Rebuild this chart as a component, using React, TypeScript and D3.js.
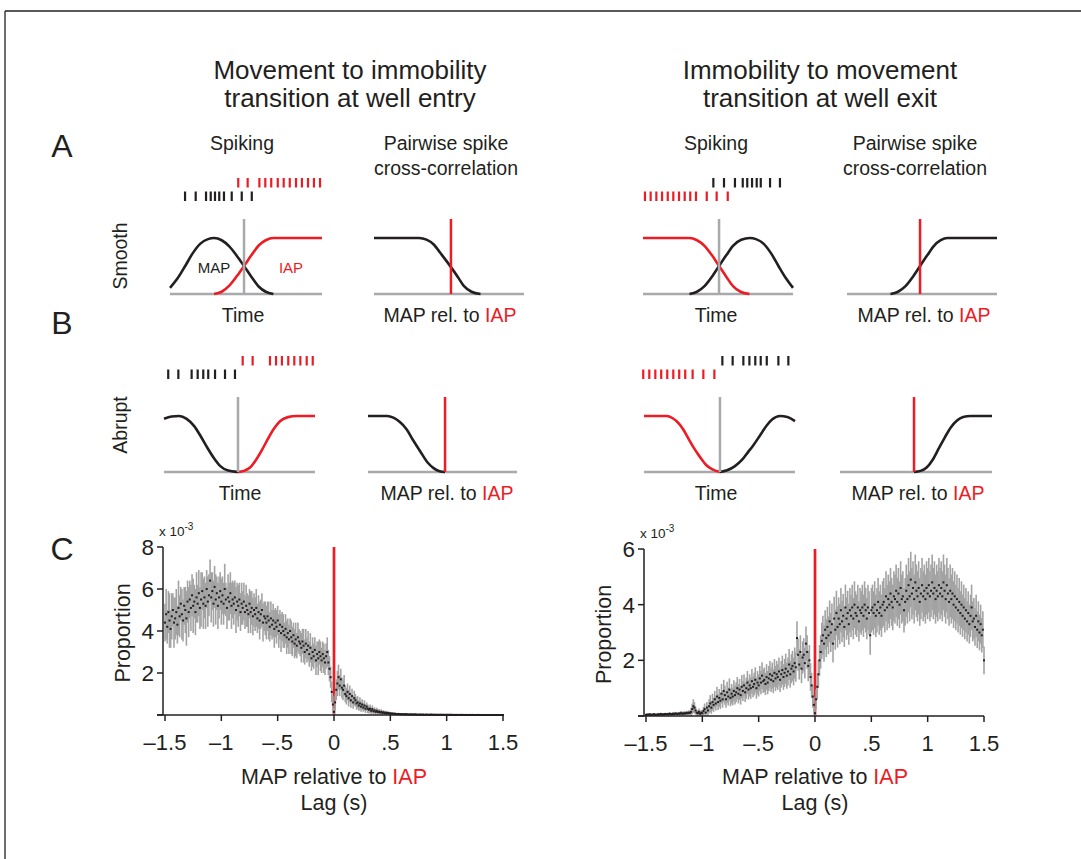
import React from 'react';
import * as d3 from 'd3';

type Knot = [number, number];

const FONT = '"Liberation Sans", Arial, Helvetica, sans-serif';
const INK = '#231f20';
const RED = '#ed1c24';
const GUIDE = '#a7a9ac';
const BAR = '#a3a3a3';

// ---------- C: cross-correlograms, one bin every 10 ms ----------
const LAGS = d3.range(-150, 151).map(i => i / 100);
const X_TICKS = [-1.5, -1, -0.5, 0, 0.5, 1, 1.5];
const X_TICK_LABELS = ['–1.5', '–1', '–.5', '0', '.5', '1', '1.5'];
const ENTRY_Y_TICKS = [0, 2, 4, 6, 8];
const EXIT_Y_TICKS = [0, 2, 4, 6];

// proportion x 10^-3, well entry (movement -> immobility)
const ENTRY_MEAN = [
  4.4, 4.8, 4.2, 4.9, 4.5, 4.1, 4.7, 5.0, 4.4, 4.6,
  4.9, 4.3, 5.1, 4.7, 5.3, 4.8, 4.5, 5.2, 5.0, 4.6,
  5.4, 4.9, 5.5, 5.1, 5.7, 5.2, 5.4, 4.9, 5.6, 5.3,
  5.8, 5.1, 5.5, 5.9, 5.3, 5.6, 5.2, 6.0, 5.4, 5.7,
  6.4, 5.6, 5.9, 5.3, 6.1, 5.5, 5.8, 5.2, 5.6, 5.9,
  5.4, 5.7, 5.3, 6.0, 5.5, 5.1, 5.6, 5.4, 5.8, 5.2,
  5.5, 5.3, 5.6, 5.0, 5.4, 5.2, 5.5, 4.9, 5.3, 5.1,
  5.4, 4.9, 5.2, 5.0, 4.8, 5.3, 4.9, 5.1, 4.7, 5.0,
  4.8, 5.1, 4.6, 4.9, 4.5, 4.8, 5.0, 4.4, 4.7, 4.6,
  4.4, 4.7, 4.5, 4.2, 4.6, 4.3, 4.5, 4.1, 4.4, 4.2,
  4.5, 4.0, 4.3, 3.9, 4.2, 4.0, 3.8, 4.1, 3.7, 3.9,
  3.6, 4.0, 3.7, 3.5, 3.8, 3.4, 3.6, 3.3, 3.7, 3.5,
  3.4, 3.2, 3.5, 3.3, 3.0, 3.4, 3.1, 3.3, 2.9, 3.2,
  2.7, 3.0, 2.8, 3.1, 2.6, 2.9, 2.7, 3.0, 2.8, 2.6,
  2.9, 2.7, 2.5, 2.8, 3.0, 2.5, 2.2, 1.8, 1.1, 0.5,
  0.15,
  0.6, 1.2, 1.5, 1.8, 1.4, 1.7, 1.3, 1.2, 1.4, 1.0,
  0.9, 1.1, 0.8, 1.0, 0.7, 0.9, 0.6, 0.8, 0.7, 0.55,
  0.6, 0.45, 0.55, 0.4, 0.5, 0.35, 0.45, 0.3, 0.4, 0.3,
  0.25, 0.3, 0.2, 0.28, 0.18, 0.22, 0.15, 0.2, 0.14, 0.16,
  0.12, 0.15, 0.1, 0.13, 0.09, 0.11, 0.08, 0.1, 0.07, 0.08,
  0.06, 0.07, 0.05, 0.06, 0.05, 0.04, 0.05, 0.04, 0.04, 0.03,
  0.04, 0.03, 0.03, 0.04, 0.03, 0.02, 0.03, 0.02, 0.03, 0.02,
  0.02, 0.03, 0.02, 0.02, 0.01, 0.02, 0.02, 0.01, 0.02, 0.01,
  0.01, 0.02, 0.01, 0.01, 0.01, 0.02, 0.01, 0.01, 0.01, 0.01,
  0.01, 0.01, 0.005, 0.01, 0.01, 0.005, 0.01, 0.005, 0.005, 0.01,
  0.005, 0.005, 0.01, 0.005, 0.005, 0.005, 0, 0.005, 0.005, 0,
  0.005, 0, 0.005, 0.005, 0, 0, 0.005, 0, 0, 0.005,
  0, 0, 0.005, 0, 0, 0, 0, 0.005, 0, 0,
  0, 0, 0, 0, 0, 0, 0, 0, 0, 0,
  0, 0, 0, 0, 0, 0, 0, 0, 0, 0,
];
const ENTRY_ERR = [
  0.9, 1.2, 0.8, 1.0, 1.3, 0.9, 1.1, 0.8, 1.2, 1.0,
  1.1, 0.9, 1.3, 1.0, 0.8, 1.2, 1.0, 0.9, 1.1, 1.3,
  1.0, 1.2, 0.9, 1.1, 1.0, 1.3, 0.8, 1.1, 1.2, 0.9,
  1.1, 1.0, 1.3, 0.9, 1.2, 1.0, 1.1, 0.9, 1.2, 1.0,
  1.0, 1.2, 0.9, 1.1, 1.0, 1.2, 0.8, 1.1, 1.0, 0.9,
  1.1, 0.9, 1.0, 1.2, 0.8, 1.0, 1.1, 0.9, 1.0, 1.1,
  0.9, 1.0, 0.8, 1.1, 0.9, 1.0, 0.8, 0.9, 1.0, 0.8,
  0.9, 0.8, 1.0, 0.8, 0.9, 0.7, 1.0, 0.8, 0.9, 0.8,
  0.8, 0.9, 0.7, 0.8, 0.9, 0.7, 0.8, 0.9, 0.7, 0.8,
  0.8, 0.7, 0.9, 0.7, 0.8, 0.7, 0.8, 0.9, 0.7, 0.8,
  0.7, 0.8, 0.7, 0.9, 0.7, 0.8, 0.6, 0.7, 0.8, 0.7,
  0.7, 0.6, 0.8, 0.7, 0.6, 0.7, 0.8, 0.6, 0.7, 0.6,
  0.6, 0.7, 0.6, 0.8, 0.6, 0.7, 0.6, 0.7, 0.6, 0.7,
  0.6, 0.7, 0.6, 0.6, 0.7, 0.6, 0.8, 0.6, 0.7, 0.6,
  0.6, 0.7, 0.6, 0.6, 0.7, 0.6, 0.6, 0.5, 0.5, 0.4,
  0.2,
  0.4, 0.5, 0.6, 0.6, 0.5, 0.5, 0.5, 0.5, 0.5, 0.4,
  0.4, 0.4, 0.4, 0.4, 0.35, 0.35, 0.3, 0.35, 0.3, 0.3,
  0.3, 0.25, 0.3, 0.25, 0.25, 0.2, 0.25, 0.2, 0.2, 0.2,
  0.18, 0.2, 0.15, 0.18, 0.14, 0.15, 0.12, 0.14, 0.12, 0.12,
  0.1, 0.12, 0.09, 0.1, 0.08, 0.09, 0.07, 0.08, 0.07, 0.07,
  0.06, 0.06, 0.05, 0.06, 0.05, 0.05, 0.05, 0.04, 0.04, 0.04,
  0.04, 0.03, 0.04, 0.03, 0.03, 0.03, 0.03, 0.02, 0.03, 0.02,
  0.02, 0.03, 0.02, 0.02, 0.02, 0.02, 0.02, 0.02, 0.02, 0.02,
  0.02, 0.02, 0.01, 0.02, 0.01, 0.02, 0.01, 0.01, 0.02, 0.01,
  0.01, 0.01, 0.01, 0.01, 0.01, 0.01, 0.01, 0.01, 0.01, 0.01,
  0.01, 0.01, 0.01, 0.01, 0.01, 0.01, 0.01, 0.01, 0.01, 0.01,
  0.01, 0.005, 0.01, 0.005, 0.005, 0.005, 0.005, 0.005, 0.005, 0.005,
  0.005, 0.005, 0.005, 0, 0.005, 0, 0.005, 0.005, 0, 0,
  0, 0, 0, 0, 0, 0, 0, 0, 0, 0,
  0, 0, 0, 0, 0, 0, 0, 0, 0, 0,
];

// proportion x 10^-3, well exit (immobility -> movement)
const EXIT_MEAN = [
  0.04, 0.05, 0.04, 0.06, 0.05, 0.04, 0.05, 0.06, 0.05, 0.04,
  0.05, 0.06, 0.05, 0.07, 0.06, 0.05, 0.06, 0.07, 0.06, 0.07,
  0.06, 0.08, 0.07, 0.06, 0.08, 0.07, 0.09, 0.08, 0.07, 0.09,
  0.08, 0.1, 0.09, 0.08, 0.1, 0.09, 0.11, 0.1, 0.12, 0.11,
  0.15, 0.25, 0.35, 0.3, 0.2, 0.12, 0.1, 0.15, 0.08, 0.12,
  0.1, 0.18, 0.25, 0.12, 0.3, 0.2, 0.35, 0.45, 0.3, 0.5,
  0.4, 0.6, 0.45, 0.7, 0.5, 0.65, 0.55, 0.8, 0.6, 0.9,
  0.75, 0.6, 0.85, 0.7, 0.95, 0.65, 0.8, 0.7, 0.9, 0.75,
  0.85, 1.0, 0.8, 0.95, 0.75, 1.05, 0.9, 1.1, 0.85, 1.0,
  1.2, 0.95, 1.1, 1.0, 1.25, 1.05, 1.15, 1.3, 1.0, 1.2,
  1.1, 1.35, 1.2, 1.45, 1.25, 1.3, 1.15, 1.4, 1.2, 1.35,
  1.5, 1.3, 1.45, 1.25, 1.55, 1.35, 1.5, 1.4, 1.6, 1.3,
  1.5, 1.65, 1.4, 1.55, 1.7, 1.45, 1.6, 1.85, 1.5, 1.7,
  1.8, 1.6, 1.9, 1.75, 2.8, 2.2, 1.85, 2.3, 1.7, 2.1,
  2.2, 1.9, 2.6, 2.3, 1.8, 2.0, 1.4, 1.1, 0.7, 0.4,
  0.1,
  0.6, 1.05, 1.5, 2.0, 2.3, 2.7, 2.9, 2.6, 3.1, 2.8,
  3.2, 2.9, 3.4, 3.0, 3.3, 2.6, 3.5, 3.1, 3.7, 3.2,
  3.5, 3.3, 3.8, 3.4, 3.6, 3.2, 3.9, 3.5, 3.7, 3.3,
  3.8, 3.6, 3.9, 3.5, 4.0, 3.7, 3.6, 3.9, 3.4, 3.8,
  3.7, 3.9, 3.6, 4.0, 3.8, 3.5, 3.9, 3.7, 2.9, 3.8,
  3.9, 3.7, 4.0, 3.6, 3.8, 4.1, 3.7, 3.9, 3.6, 4.0,
  4.1, 3.8, 4.3, 3.9, 4.2, 4.0, 4.4, 4.1, 3.9, 4.3,
  4.2, 4.5, 4.1, 4.4, 4.0, 4.6, 4.2, 4.3, 3.8, 4.1,
  4.5, 4.2, 4.7, 4.3, 4.9, 4.4, 4.6, 4.2, 4.8, 4.5,
  4.3, 4.6, 4.1, 4.4, 4.7, 4.3, 4.5, 4.2, 4.6, 4.4,
  4.7, 4.3, 4.5, 4.8, 4.4, 4.6, 4.2, 4.5, 4.3, 4.7,
  4.4, 4.6, 4.3, 4.8, 4.5, 4.2, 4.7, 4.4, 4.1, 4.5,
  4.2, 4.4, 4.0, 4.3, 3.9, 4.2, 3.8, 4.1, 3.7, 4.0,
  3.6, 3.9, 3.5, 3.8, 3.4, 3.7, 3.3, 3.6, 3.9, 3.4,
  3.5, 3.2, 3.6, 3.1, 3.4, 3.0, 3.3, 2.9, 3.1, 2.0,
];
const EXIT_ERR = [
  0.03, 0.04, 0.03, 0.05, 0.04, 0.03, 0.04, 0.05, 0.04, 0.03,
  0.04, 0.05, 0.04, 0.05, 0.05, 0.04, 0.05, 0.05, 0.04, 0.05,
  0.05, 0.06, 0.05, 0.05, 0.06, 0.05, 0.06, 0.06, 0.05, 0.06,
  0.06, 0.08, 0.07, 0.06, 0.08, 0.07, 0.08, 0.08, 0.09, 0.08,
  0.15, 0.2, 0.25, 0.2, 0.15, 0.1, 0.1, 0.12, 0.08, 0.1,
  0.1, 0.15, 0.2, 0.12, 0.2, 0.18, 0.25, 0.3, 0.22, 0.3,
  0.25, 0.3, 0.25, 0.35, 0.28, 0.32, 0.3, 0.35, 0.3, 0.4,
  0.35, 0.3, 0.38, 0.32, 0.4, 0.3, 0.35, 0.32, 0.38, 0.34,
  0.36, 0.4, 0.35, 0.38, 0.34, 0.42, 0.36, 0.4, 0.35, 0.38,
  0.42, 0.36, 0.4, 0.38, 0.44, 0.38, 0.4, 0.45, 0.38, 0.42,
  0.4, 0.45, 0.42, 0.48, 0.42, 0.44, 0.4, 0.46, 0.42, 0.45,
  0.48, 0.44, 0.47, 0.43, 0.5, 0.45, 0.48, 0.46, 0.5, 0.44,
  0.48, 0.52, 0.46, 0.5, 0.54, 0.47, 0.5, 0.56, 0.48, 0.52,
  0.54, 0.5, 0.56, 0.52, 0.6, 0.58, 0.54, 0.6, 0.52, 0.58,
  0.6, 0.55, 0.62, 0.6, 0.55, 0.55, 0.5, 0.45, 0.4, 0.3,
  0.2,
  0.35, 0.45, 0.5, 0.55, 0.6, 0.65, 0.7, 0.65, 0.7, 0.68,
  0.72, 0.68, 0.75, 0.7, 0.74, 0.68, 0.78, 0.72, 0.8, 0.74,
  0.76, 0.72, 0.8, 0.74, 0.78, 0.72, 0.82, 0.76, 0.8, 0.74,
  0.8, 0.76, 0.82, 0.74, 0.84, 0.78, 0.76, 0.82, 0.72, 0.8,
  0.78, 0.82, 0.76, 0.84, 0.8, 0.74, 0.82, 0.78, 0.7, 0.8,
  0.82, 0.78, 0.84, 0.76, 0.8, 0.86, 0.78, 0.82, 0.76, 0.84,
  0.86, 0.8, 0.9, 0.82, 0.88, 0.84, 0.92, 0.86, 0.82, 0.9,
  0.88, 0.94, 0.86, 0.92, 0.84, 0.96, 0.88, 0.9, 0.8, 0.86,
  0.94, 0.88, 0.98, 0.9, 1.0, 0.92, 0.96, 0.88, 1.0, 0.94,
  0.9, 0.96, 0.86, 0.92, 0.98, 0.9, 0.94, 0.88, 0.96, 0.92,
  0.98, 0.9, 0.94, 1.0, 0.92, 0.96, 0.88, 0.94, 0.9, 0.98,
  0.92, 0.96, 0.9, 1.0, 0.94, 0.88, 0.98, 0.92, 0.86, 0.94,
  0.88, 0.92, 0.84, 0.9, 0.82, 0.88, 0.8, 0.86, 0.78, 0.84,
  0.76, 0.82, 0.74, 0.8, 0.72, 0.78, 0.7, 0.76, 0.82, 0.72,
  0.74, 0.68, 0.76, 0.66, 0.72, 0.64, 0.7, 0.62, 0.66, 0.5,
];

// ---------- A/B: schematic curves, knots = [fraction of width, fraction of plateau] ----------
const SMOOTH_ENTRY_MAP: Knot[] = [[0, 0.11], [0.05, 0.28], [0.1, 0.5], [0.15, 0.73], [0.2, 0.9], [0.25, 0.98], [0.29, 1], [0.34, 0.96], [0.39, 0.85], [0.44, 0.68], [0.487, 0.5], [0.535, 0.31], [0.585, 0.13], [0.63, 0.04], [0.68, 0]];
const SMOOTH_ENTRY_IAP: Knot[] = [[0.29, 0], [0.34, 0.04], [0.39, 0.15], [0.44, 0.32], [0.487, 0.5], [0.535, 0.69], [0.585, 0.87], [0.63, 0.96], [0.68, 1], [1, 1]];
const SMOOTH_ENTRY_XCORR: Knot[] = [[0, 1], [0.3, 1], [0.35, 0.97], [0.4, 0.88], [0.44, 0.74], [0.48, 0.6], [0.513, 0.48], [0.56, 0.3], [0.6, 0.14], [0.65, 0.04], [0.71, 0]];
const SMOOTH_EXIT_IAP: Knot[] = [[0, 1], [0.31, 1], [0.36, 0.96], [0.41, 0.86], [0.46, 0.69], [0.507, 0.5], [0.555, 0.31], [0.6, 0.14], [0.65, 0.04], [0.71, 0]];
const SMOOTH_EXIT_MAP: Knot[] = [[0.31, 0], [0.36, 0.04], [0.41, 0.14], [0.46, 0.31], [0.507, 0.5], [0.555, 0.69], [0.6, 0.86], [0.655, 0.97], [0.713, 1], [0.753, 0.98], [0.803, 0.9], [0.853, 0.73], [0.903, 0.5], [0.953, 0.28], [1, 0.11]];
const SMOOTH_EXIT_XCORR: Knot[] = [[0.29, 0], [0.34, 0.04], [0.39, 0.14], [0.44, 0.31], [0.487, 0.5], [0.535, 0.69], [0.58, 0.86], [0.625, 0.96], [0.67, 1], [1, 1]];
const ABRUPT_ENTRY_MAP: Knot[] = [[0, 0.95], [0.05, 0.99], [0.1, 1], [0.15, 0.95], [0.2, 0.82], [0.245, 0.63], [0.29, 0.42], [0.33, 0.25], [0.375, 0.1], [0.42, 0.03], [0.49, 0]];
const ABRUPT_ENTRY_IAP: Knot[] = [[0.49, 0], [0.53, 0.02], [0.57, 0.08], [0.61, 0.22], [0.65, 0.4], [0.69, 0.6], [0.73, 0.78], [0.77, 0.91], [0.82, 0.98], [0.88, 1], [1, 1]];
const ABRUPT_ENTRY_XCORR: Knot[] = [[0, 1], [0.13, 1], [0.17, 0.97], [0.21, 0.9], [0.26, 0.76], [0.3, 0.58], [0.35, 0.37], [0.4, 0.17], [0.44, 0.07], [0.48, 0.015], [0.517, 0]];
const ABRUPT_EXIT_IAP: Knot[] = [[0, 1], [0.15, 1], [0.19, 0.96], [0.23, 0.87], [0.26, 0.76], [0.29, 0.62], [0.33, 0.43], [0.37, 0.27], [0.41, 0.13], [0.45, 0.05], [0.503, 0]];
const ABRUPT_EXIT_MAP: Knot[] = [[0.503, 0], [0.55, 0.03], [0.6, 0.1], [0.65, 0.22], [0.69, 0.36], [0.722, 0.47], [0.77, 0.66], [0.81, 0.82], [0.85, 0.94], [0.9, 1], [0.95, 0.98], [1, 0.91]];
const ABRUPT_EXIT_XCORR: Knot[] = [[0.487, 0], [0.53, 0.02], [0.57, 0.08], [0.61, 0.22], [0.65, 0.42], [0.69, 0.62], [0.73, 0.8], [0.77, 0.92], [0.81, 0.98], [0.86, 1], [1, 1]];

// spike rasters (fraction of panel width)
const SMOOTH_ENTRY_MAP_SPIKES = [0.099, 0.169, 0.237, 0.268, 0.296, 0.324, 0.355, 0.406, 0.472, 0.538];
const SMOOTH_ENTRY_IAP_SPIKES = [0.449, 0.511, 0.588, 0.627, 0.666, 0.709, 0.748, 0.788, 0.829, 0.868, 0.908, 0.947, 0.987];
const SMOOTH_EXIT_MAP_SPIKES = [0.469, 0.54, 0.613, 0.665, 0.695, 0.727, 0.758, 0.785, 0.847, 0.913];
const SMOOTH_EXIT_IAP_SPIKES = [0.013, 0.051, 0.089, 0.127, 0.165, 0.202, 0.24, 0.278, 0.315, 0.353, 0.425, 0.491, 0.565];
const ABRUPT_ENTRY_MAP_SPIKES = [0.028, 0.095, 0.183, 0.223, 0.26, 0.293, 0.338, 0.404, 0.47];
const ABRUPT_ENTRY_IAP_SPIKES = [0.521, 0.587, 0.702, 0.742, 0.781, 0.823, 0.863, 0.903, 0.945, 0.985];
const ABRUPT_EXIT_MAP_SPIKES = [0.519, 0.587, 0.658, 0.698, 0.737, 0.773, 0.813, 0.89, 0.956];
const ABRUPT_EXIT_IAP_SPIKES = [-0.005, 0.035, 0.075, 0.114, 0.154, 0.194, 0.233, 0.273, 0.322, 0.393, 0.466];

type Curve = { knots: Knot[]; color: string };
type Row = { times: number[]; color: string };

function Schematic({ x0, w, base, marker, markerColor, curves, top, bottom }: {
  x0: number; w: number; base: number; marker: number; markerColor: string;
  curves: Curve[]; top?: Row; bottom?: Row;
}) {
  const x = d3.scaleLinear().domain([0, 1]).range([x0, x0 + w]);
  const y = d3.scaleLinear().domain([0, 1]).range([base, base - 56]);
  const line = d3.line<Knot>().x(d => x(d[0])).y(d => y(d[1])).curve(d3.curveMonotoneX);
  const rows: [Row | undefined, number][] = [[top, 116], [bottom, 102.5]];
  return (
    <g>
      <line x1={x0} x2={x0 + w} y1={base} y2={base} stroke={GUIDE} strokeWidth={2.6} />
      {curves.map((c, i) => (
        <path key={i} d={line(c.knots) || ''} fill="none" stroke={c.color} strokeWidth={2.6} />
      ))}
      <line x1={x(marker)} x2={x(marker)} y1={base} y2={base - 75} stroke={markerColor} strokeWidth={2.5} />
      {rows.map(([row, off], r) => row && row.times.map((t, i) => (
        <line key={`${r}-${i}`} x1={x(t)} x2={x(t)} y1={base - off} y2={base - off + 9.5}
          stroke={row.color} strokeWidth={2.2} />
      )))}
    </g>
  );
}

function LagPanel({ left, right, top, bottom, yMax, yTicks, mean, err }: {
  left: number; right: number; top: number; bottom: number; yMax: number;
  yTicks: number[]; mean: number[]; err: number[];
}) {
  const x = d3.scaleLinear().domain([-1.5, 1.5]).range([left, right]);
  const y = d3.scaleLinear().domain([0, yMax]).range([bottom, top]);
  const ax = left - 2;
  const cx = x(0);
  return (
    <g>
      <line x1={cx} x2={cx} y1={y(yMax)} y2={y(0)} stroke={RED} strokeWidth={2.7} />
      {LAGS.map((l, i) => (
        <line key={`e${i}`} x1={x(l)} x2={x(l)} y1={y(Math.max(0, mean[i] - err[i]))} y2={y(mean[i] + err[i])}
          stroke={BAR} strokeWidth={1.6} />
      ))}
      {LAGS.map((l, i) => (
        <rect key={`m${i}`} x={x(l) - 1} y={y(mean[i]) - 1} width={2} height={2} fill={INK} />
      ))}
      {/* axes */}
      <line x1={ax} x2={ax} y1={y(yMax)} y2={y(0)} stroke={INK} strokeWidth={1.5} />
      <line x1={ax - 6} x2={x(1.5)} y1={y(0)} y2={y(0)} stroke={INK} strokeWidth={1.5} />
      {yTicks.map(t => (
        <g key={`y${t}`}>
          <line x1={ax - 6} x2={ax} y1={y(t)} y2={y(t)} stroke={INK} strokeWidth={1.5} />
          {t > 0 && (
            <text x={ax - 9} y={y(t)} dy="0.36em" textAnchor="end" fontSize={22.5} fill={INK}>{t}</text>
          )}
        </g>
      ))}
      {X_TICKS.map((t, i) => (
        <g key={`x${t}`}>
          <line x1={x(t)} x2={x(t)} y1={y(0)} y2={y(0) + 6} stroke={INK} strokeWidth={1.5} />
          <text x={x(t)} y={y(0) + 35} textAnchor="middle" fontSize={22} fill={INK}>{X_TICK_LABELS[i]}</text>
        </g>
      ))}
      <text x={ax - 4} y={y(yMax) - 11} fontSize={13.5} fill={INK}>
        x 10<tspan fontSize={10} dy={-6}>-3</tspan>
      </text>
      <text transform={`translate(${ax - 33},${(y(0) + y(yMax)) / 2 + 2}) rotate(-90)`} textAnchor="middle"
        fontSize={21.5} fill={INK}>Proportion</text>
      <text x={cx} y={784} textAnchor="middle" fontSize={21.5} fill={INK}>
        MAP relative to <tspan fill={RED}>IAP</tspan>
      </text>
      <text x={cx} y={810} textAnchor="middle" fontSize={21.5} fill={INK}>Lag (s)</text>
    </g>
  );
}

const RelLabel = ({ x, y }: { x: number; y: number }) => (
  <text x={x} y={y} textAnchor="middle" fontSize={19.5} fill={INK}>
    MAP rel. to <tspan fill={RED}>IAP</tspan>
  </text>
);

export default function App() {
  return (
    <div style={{ position: 'absolute', left: 0, top: 0 }}>
      <svg width={1081} height={859} style={{ display: 'block', background: '#fff', fontFamily: FONT }}>
        <line x1={5} x2={1081} y1={11} y2={11} stroke={INK} strokeWidth={1.3} />
        <line x1={5} x2={5} y1={11} y2={859} stroke={INK} strokeWidth={1.3} />

        {/* titles */}
        <text x={350} y={79} textAnchor="middle" fontSize={26} fill={INK}>Movement to immobility</text>
        <text x={350} y={107} textAnchor="middle" fontSize={26} fill={INK}>transition at well entry</text>
        <text x={820} y={79} textAnchor="middle" fontSize={26} fill={INK}>Immobility to movement</text>
        <text x={820} y={107} textAnchor="middle" fontSize={26} fill={INK}>transition at well exit</text>

        <text x={62} y={157} textAnchor="middle" fontSize={32} fill={INK}>A</text>
        <text x={62} y={334} textAnchor="middle" fontSize={32} fill={INK}>B</text>
        <text x={62} y={560} textAnchor="middle" fontSize={32} fill={INK}>C</text>

        <text x={242} y={150} textAnchor="middle" fontSize={19.5} fill={INK}>Spiking</text>
        <text x={446} y={150} textAnchor="middle" fontSize={19.5} fill={INK}>Pairwise spike</text>
        <text x={446} y={175} textAnchor="middle" fontSize={19.5} fill={INK}>cross-correlation</text>
        <text x={716} y={150} textAnchor="middle" fontSize={19.5} fill={INK}>Spiking</text>
        <text x={915} y={150} textAnchor="middle" fontSize={19.5} fill={INK}>Pairwise spike</text>
        <text x={915} y={175} textAnchor="middle" fontSize={19.5} fill={INK}>cross-correlation</text>

        <text transform="translate(127,256) rotate(-90)" textAnchor="middle" fontSize={19.5} fill={INK}>Smooth</text>
        <text transform="translate(127,425) rotate(-90)" textAnchor="middle" fontSize={19.5} fill={INK}>Abrupt</text>

        {/* A: smooth */}
        <Schematic x0={170} w={152} base={294} marker={0.487} markerColor={GUIDE}
          curves={[{ knots: SMOOTH_ENTRY_MAP, color: INK }, { knots: SMOOTH_ENTRY_IAP, color: RED }]}
          top={{ times: SMOOTH_ENTRY_IAP_SPIKES, color: RED }} bottom={{ times: SMOOTH_ENTRY_MAP_SPIKES, color: INK }} />
        <text x={214} y={273} textAnchor="middle" fontSize={15} fill={INK}>MAP</text>
        <text x={291} y={273} textAnchor="middle" fontSize={15} fill={RED}>IAP</text>
        <Schematic x0={374} w={150} base={294} marker={0.513} markerColor={RED}
          curves={[{ knots: SMOOTH_ENTRY_XCORR, color: INK }]} />
        <Schematic x0={643} w={150} base={294} marker={0.507} markerColor={GUIDE}
          curves={[{ knots: SMOOTH_EXIT_IAP, color: RED }, { knots: SMOOTH_EXIT_MAP, color: INK }]}
          top={{ times: SMOOTH_EXIT_MAP_SPIKES, color: INK }} bottom={{ times: SMOOTH_EXIT_IAP_SPIKES, color: RED }} />
        <Schematic x0={847} w={150} base={294} marker={0.487} markerColor={RED}
          curves={[{ knots: SMOOTH_EXIT_XCORR, color: INK }]} />
        <text x={243} y={322} textAnchor="middle" fontSize={19.5} fill={INK}>Time</text>
        <RelLabel x={450} y={322} />
        <text x={716} y={322} textAnchor="middle" fontSize={19.5} fill={INK}>Time</text>
        <RelLabel x={924} y={322} />

        {/* B: abrupt */}
        <Schematic x0={164} w={151} base={472} marker={0.49} markerColor={GUIDE}
          curves={[{ knots: ABRUPT_ENTRY_MAP, color: INK }, { knots: ABRUPT_ENTRY_IAP, color: RED }]}
          top={{ times: ABRUPT_ENTRY_IAP_SPIKES, color: RED }} bottom={{ times: ABRUPT_ENTRY_MAP_SPIKES, color: INK }} />
        <Schematic x0={368} w={149} base={472} marker={0.517} markerColor={RED}
          curves={[{ knots: ABRUPT_ENTRY_XCORR, color: INK }]} />
        <Schematic x0={644} w={151} base={472} marker={0.503} markerColor={GUIDE}
          curves={[{ knots: ABRUPT_EXIT_IAP, color: RED }, { knots: ABRUPT_EXIT_MAP, color: INK }]}
          top={{ times: ABRUPT_EXIT_MAP_SPIKES, color: INK }} bottom={{ times: ABRUPT_EXIT_IAP_SPIKES, color: RED }} />
        <Schematic x0={840} w={152} base={472} marker={0.487} markerColor={RED}
          curves={[{ knots: ABRUPT_EXIT_XCORR, color: INK }]} />
        <text x={240} y={500} textAnchor="middle" fontSize={19.5} fill={INK}>Time</text>
        <RelLabel x={447} y={500} />
        <text x={716} y={500} textAnchor="middle" fontSize={19.5} fill={INK}>Time</text>
        <RelLabel x={918} y={500} />

        {/* C */}
        <LagPanel left={165} right={503} top={547} bottom={715} yMax={8} yTicks={ENTRY_Y_TICKS}
          mean={ENTRY_MEAN} err={ENTRY_ERR} />
        <LagPanel left={646} right={984} top={549} bottom={716} yMax={6} yTicks={EXIT_Y_TICKS}
          mean={EXIT_MEAN} err={EXIT_ERR} />
      </svg>
    </div>
  );
}
